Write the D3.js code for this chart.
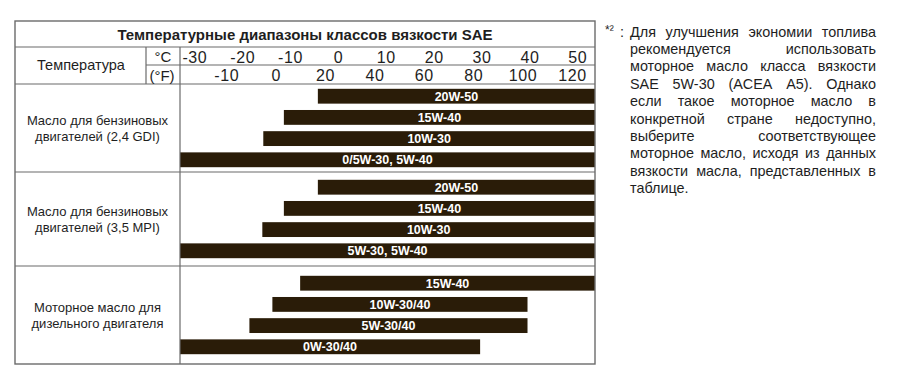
<!DOCTYPE html>
<html><head><meta charset="utf-8">
<script src="https://cdn.jsdelivr.net/npm/d3@7"></script>
<style>
html,body{margin:0;padding:0;background:#fff;}
svg{display:block;font-family:"Liberation Sans",Arial,sans-serif;}
</style></head>
<body><svg id="c" width="900" height="382"></svg>
<script>
// ---------- data ----------
const title = "Температурные диапазоны классов вязкости SAE";
const headerLabel = "Температура";
const unitC = "°C", unitF = "(°F)";
const tempC = [-30, -20, -10, 0, 10, 20, 30, 40, 50];
const tempF = [-10, 0, 20, 40, 60, 80, 100, 120];

const groupLabels = [
  ["Масло для бензиновых", "двигателей (2,4 GDI)"],
  ["Масло для бензиновых", "двигателей (3,5 MPI)"],
  ["Моторное масло для", "дизельного двигателя"]
];
// open-ended ranges are given as -35 / 55 (beyond the printed scale)
const gdiGrades = ["20W-50", "15W-40", "10W-30", "0/5W-30, 5W-40"];
const gdiFrom   = [-4.2, -11.3, -15.6, -35];
const gdiTo     = [55, 55, 55, 55];
const mpiGrades = ["20W-50", "15W-40", "10W-30", "5W-30, 5W-40"];
const mpiFrom   = [-4.2, -11.3, -15.8, -35];
const mpiTo     = [55, 55, 55, 55];
const dslGrades = ["15W-40", "10W-30/40", "5W-30/40", "0W-30/40"];
const dslFrom   = [-7.9, -13.7, -18.5, -35];
const dslTo     = [55, 39.6, 39.6, 29.7];

const noteMark = "*²";
const noteLines = [
  "Для улучшения экономии топлива",
  "рекомендуется использовать",
  "моторное масло класса вязкости",
  "SAE 5W-30 (ACEA A5). Однако",
  "если такое моторное масло в",
  "конкретной стране недоступно,",
  "выберите соответствующее",
  "моторное масло, исходя из данных",
  "вязкости масла, представленных в",
  "таблице."
];

// ---------- layout ----------
const L = 15, R = 595, T = 21, B = 364;
const colUnit = 146, colMain = 180;
const yTitle = 47, yUnits = 65, yHead = 84;
const groupEdges = [yHead, 172, 266, B];
const lineColor = "#6b6b6b", barColor = "#2a1c08", textColor = "#1e1e1e";

const svg = d3.select("#c");
const x = d3.scaleLinear().domain([-33, 53.7]).range([colMain, R]).clamp(true);
const fToC = f => (f - 32) * 5 / 9;
const xf = d3.scalePoint().domain(tempF).range([x(fToC(-10)), x(fToC(120))]);

const groups = [
  {label: groupLabels[0], bars: gdiGrades.map((g, i) => ({g, from: gdiFrom[i], to: gdiTo[i]}))},
  {label: groupLabels[1], bars: mpiGrades.map((g, i) => ({g, from: mpiFrom[i], to: mpiTo[i]}))},
  {label: groupLabels[2], bars: dslGrades.map((g, i) => ({g, from: dslFrom[i], to: dslTo[i]}))}
];

// bars
groups.forEach((grp, gi) => {
  const top = groupEdges[gi], bot = groupEdges[gi + 1], mid = (top + bot) / 2;
  const y = d3.scaleBand().domain(d3.range(grp.bars.length))
    .range([mid - 39.2, mid + 39.2]).paddingInner(0.3);
  const gg = svg.append("g");
  gg.selectAll("rect").data(grp.bars).join("rect")
    .attr("x", d => x(d.from)).attr("width", d => x(d.to) - x(d.from))
    .attr("y", (d, i) => y(i)).attr("height", y.bandwidth())
    .attr("fill", barColor);
  gg.selectAll("text.bl").data(grp.bars).join("text").attr("class", "bl")
    .attr("x", d => (x(d.from) + x(d.to)) / 2)
    .attr("y", (d, i) => y(i) + y.bandwidth() / 2 + 4.5)
    .attr("text-anchor", "middle").attr("fill", "#fff")
    .attr("font-weight", "bold").attr("font-size", 12.5)
    .text(d => d.g);
  // group label
  const lt = svg.append("text").attr("x", (L + colMain) / 2).attr("y", mid - 3)
    .attr("text-anchor", "middle").attr("font-size", 13).attr("fill", textColor);
  lt.selectAll("tspan").data(grp.label).join("tspan")
    .attr("x", (L + colMain) / 2).attr("dy", (d, i) => i === 0 ? 0 : 16).text(d => d);
});

// grid lines
const lines = [
  [L, yTitle, R, yTitle], [colUnit, yUnits, R, yUnits], [L, yHead, R, yHead],
  [colUnit, yTitle, colUnit, yHead], [colMain, yTitle, colMain, B],
  [L, groupEdges[1], R, groupEdges[1]], [L, groupEdges[2], R, groupEdges[2]]
];
svg.append("g").selectAll("line").data(lines).join("line")
  .attr("x1", d => d[0]).attr("y1", d => d[1]).attr("x2", d => d[2]).attr("y2", d => d[3])
  .attr("stroke", lineColor).attr("stroke-width", 1.2);
svg.append("rect").attr("x", L).attr("y", T).attr("width", R - L).attr("height", B - T)
  .attr("fill", "none").attr("stroke", lineColor).attr("stroke-width", 1.4);

// header texts
svg.append("text").attr("x", (L + R) / 2).attr("y", 39.5).attr("text-anchor", "middle")
  .attr("font-weight", "bold").attr("font-size", 15).attr("fill", textColor).text(title);
svg.append("text").attr("x", 81).attr("y", 70).attr("text-anchor", "middle")
  .attr("font-size", 14.5).attr("fill", textColor).text(headerLabel);
svg.append("text").attr("x", (colUnit + colMain) / 2).attr("y", 62).attr("text-anchor", "middle")
  .attr("font-size", 15).attr("fill", textColor).text(unitC);
svg.append("text").attr("x", (colUnit + colMain) / 2 - 1).attr("y", 81).attr("text-anchor", "middle")
  .attr("font-size", 15).attr("fill", textColor).text(unitF);

const axC = d3.axisBottom(x).tickValues(tempC).tickSize(0).tickFormat(d => String(d));
const gC = svg.append("g").attr("transform", `translate(0,${yTitle})`).call(axC);
const axF = d3.axisBottom(xf).tickSize(0).tickFormat(d => String(d));
const gF = svg.append("g").attr("transform", `translate(0,${yUnits})`).call(axF);
[gC, gF].forEach(g => {
  g.select(".domain").remove();
  g.selectAll("text").attr("font-size", 16).attr("font-family", "Liberation Sans, Arial, sans-serif")
    .attr("fill", textColor).attr("dy", null).attr("y", 15.5).attr("letter-spacing", 0.6);
});

// note text (justified)
const nx0 = 630, nx1 = 876, ny0 = 36.5, nlh = 17.4, nfs = 14.4;
svg.append("text").attr("x", 605).attr("y", ny0 - 3).attr("font-size", 12).attr("fill", textColor).text(noteMark);
svg.append("text").attr("x", 620).attr("y", ny0).attr("font-size", nfs).attr("fill", textColor).text(":");
noteLines.forEach((ln, li) => {
  const words = ln.split(" ");
  const yy = ny0 + li * nlh;
  const ts = words.map(w => svg.append("text").attr("y", yy).attr("font-size", nfs)
    .attr("fill", textColor).text(w));
  const ws = ts.map(t => t.node().getComputedTextLength());
  const last = li === noteLines.length - 1;
  const total = d3.sum(ws);
  const gap = (last || words.length < 2) ? 4 : (nx1 - nx0 - total) / (words.length - 1);
  let cx = nx0;
  ts.forEach((t, i) => { t.attr("x", cx); cx += ws[i] + gap; });
});
</script></body></html>
